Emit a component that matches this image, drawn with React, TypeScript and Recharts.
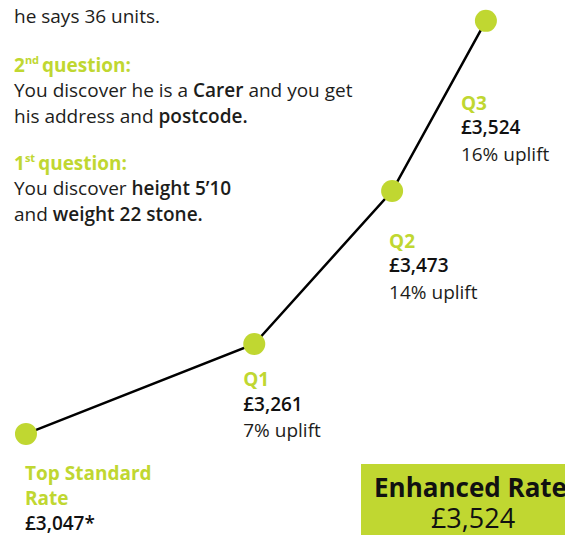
import React from 'react';
import { LineChart, Line, XAxis, YAxis, LabelList } from 'recharts';

// Rate steps
const stageLines = [['Top Standard', 'Rate'], ['Q1'], ['Q2'], ['Q3']];
const amounts = ['£3,047*', '£3,261', '£3,473', '£3,524'];
const uplifts = ['', '7% uplift', '14% uplift', '16% uplift'];
// position of each step on the path
const steps = [4.6, 45, 69.4, 86];
const levels = [18.9, 35.7, 64.3, 96.1];

const enhancedLabel = 'Enhanced Rate';
const enhancedAmount = '£3,524';

const data = steps.map((step, i) => ({
  step,
  level: levels[i],
  amount: amounts[i],
}));

// label placement relative to each dot
const labelOffsets = [
  { dx: -1, dy: 46 },
  { dx: -11, dy: 42 },
  { dx: -3, dy: 57 },
  { dx: -25, dy: 89 },
];

const GREEN = '#c0d731';
const TEXT = '#1d1d1b';
const FONT = '"Open Sans", "Noto Sans", sans-serif';
const LINE_GAP = 25.5;

const StepLabel = (props: any) => {
  const { x, y, index } = props;
  const off = labelOffsets[index];
  const left = x + off.dx;
  let base = y + off.dy;
  const rows: React.ReactNode[] = [];
  stageLines[index].forEach((t, k) => {
    rows.push(
      <text key={'h' + k} x={left} y={base} fill={GREEN} fontWeight={700} fontSize={19}>
        {t}
      </text>
    );
    base += LINE_GAP;
  });
  rows.push(
    <text key="a" x={left} y={base - 1} fill="#111" fontWeight={600} fontSize={19}>
      {amounts[index]}
    </text>
  );
  base += LINE_GAP;
  if (uplifts[index]) {
    rows.push(
      <text key="u" x={left} y={base} fill={TEXT} fontSize={19}>
        {uplifts[index]}
      </text>
    );
  }
  return <g fontFamily={FONT}>{rows}</g>;
};

const Notes = () => (
  <svg
    width={565}
    height={535}
    style={{ position: 'absolute', left: 0, top: 0, pointerEvents: 'none' }}
    fontFamily={FONT}
    fontSize={19}
    fill={TEXT}
  >
    <text x={14} y={23}>he says 36 units.</text>

    <text x={14} y={72} fill={GREEN} fontWeight={700}>
      2<tspan fontSize={11} dy={-8}>nd</tspan>
      <tspan dx={3} dy={8}>question:</tspan>
    </text>
    <text x={14} y={97}>
      You discover he is a <tspan fontWeight={600}>Carer</tspan> and you get
    </text>
    <text x={14} y={123}>
      his address and <tspan fontWeight={600}>postcode.</tspan>
    </text>

    <text x={14} y={170} fill={GREEN} fontWeight={700}>
      1<tspan fontSize={11} dy={-8}>st</tspan>
      <tspan dx={3} dy={8}>question:</tspan>
    </text>
    <text x={14} y={195}>
      You discover <tspan fontWeight={600}>height 5’10</tspan>
    </text>
    <text x={14} y={221}>
      and <tspan fontWeight={600}>weight 22 stone.</tspan>
    </text>

    <rect x={361} y={464} width={230} height={71} fill={GREEN} />
    <text x={374} y={497} fontSize={26} fontWeight={700} fill="#111">
      {enhancedLabel}
    </text>
    <text x={473} y={528} fontSize={27} fill="#111" textAnchor="middle">
      {enhancedAmount}
    </text>
  </svg>
);

const App: React.FC = () => (
  <div style={{ position: 'absolute', left: 0, top: 0, width: 565, height: 535, background: '#fff', overflow: 'hidden' }}>
    <LineChart width={565} height={535} data={data} margin={{ top: 0, right: 0, bottom: 0, left: 0 }}>
      <XAxis dataKey="step" type="number" domain={[0, 100]} hide />
      <YAxis dataKey="level" type="number" domain={[0, 100]} hide />
      <Line
        type="linear"
        dataKey="level"
        stroke="#000"
        strokeWidth={2.5}
        dot={{ r: 11, fill: GREEN, stroke: 'none' }}
        activeDot={false}
        isAnimationActive={false}
      >
        <LabelList dataKey="amount" content={<StepLabel />} />
      </Line>
    </LineChart>
    <Notes />
  </div>
);

export default App;
